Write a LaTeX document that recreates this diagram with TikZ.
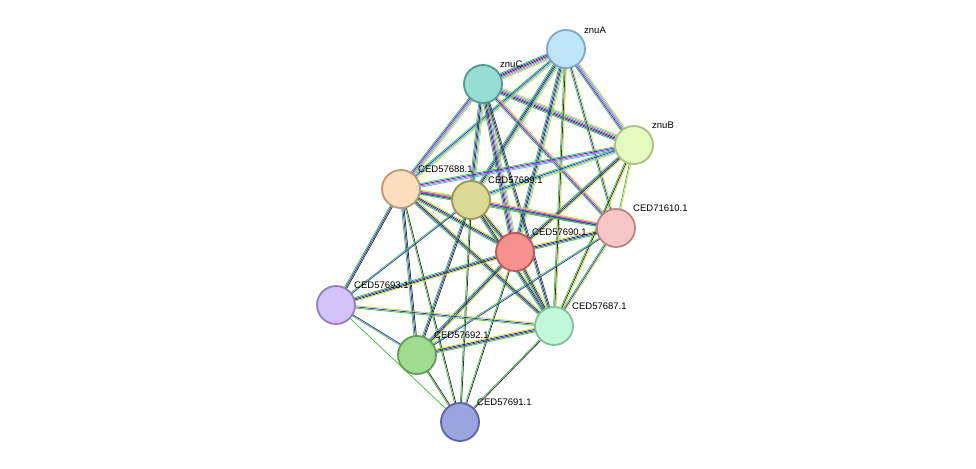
\documentclass[tikz,border=0pt]{standalone}
\usepackage{fontspec}
\setmainfont{Liberation Sans}
\usetikzlibrary{calc}
\definecolor{eG}{HTML}{3CC43C}
\definecolor{eB}{HTML}{3030E0}
\definecolor{eK}{HTML}{303030}
\definecolor{eM}{HTML}{E040E0}
\definecolor{eC}{HTML}{40C0E0}
\definecolor{eY}{HTML}{C8D830}
\definecolor{fA}{HTML}{BFE6F8}\definecolor{dA}{HTML}{7FA8C8}
\definecolor{fC}{HTML}{98DDD4}\definecolor{dC}{HTML}{4E9A90}
\definecolor{fB}{HTML}{E4FBC0}\definecolor{dB}{HTML}{A8C080}
\definecolor{f688}{HTML}{FCDDBE}\definecolor{d688}{HTML}{B8987C}
\definecolor{f689}{HTML}{DCD896}\definecolor{d689}{HTML}{9A9658}
\definecolor{f610}{HTML}{F8C6C6}\definecolor{d610}{HTML}{B88484}
\definecolor{f690}{HTML}{F89090}\definecolor{d690}{HTML}{C05858}
\definecolor{f693}{HTML}{D4C2FA}\definecolor{d693}{HTML}{9280C0}
\definecolor{f687}{HTML}{C2F8DA}\definecolor{d687}{HTML}{82C09C}
\definecolor{f692}{HTML}{A0DC90}\definecolor{d692}{HTML}{60A054}
\definecolor{f691}{HTML}{9AA4DE}\definecolor{d691}{HTML}{5A64A8}
\ExplSyntaxOn
\newcommand{\mycount}[1]{\clist_count:n{#1}}
\ExplSyntaxOff
\newcommand{\myedge}[3]{%
  \edef\nn{\mycount{#3}}%
  \foreach \c [count=\i] in {#3} {
    \pgfmathsetmacro{\o}{(\i-(\nn+1)/2)*1.2}
    \draw[\c,line width=0.75pt] ($(#1)!\o pt!90:(#2)$) -- ($(#2)!\o pt!-90:(#1)$);
  }}
\tikzset{prot/.style={circle,minimum size=38pt,inner sep=0pt,line width=1.8pt},
  lab/.style={font=\fontsize{9.5}{10}\selectfont,anchor=south west,inner sep=1pt}}
\begin{document}
\begin{tikzpicture}[x=1pt,y=-1pt]
\useasboundingbox (0,0) rectangle (976,468);
\coordinate (znuA) at (566,49);
\coordinate (znuC) at (483,84);
\coordinate (znuB) at (634,145);
\coordinate (c688) at (401,189);
\coordinate (c689) at (471,200);
\coordinate (c610) at (616,228);
\coordinate (c690) at (515,252);
\coordinate (c693) at (336,305);
\coordinate (c687) at (554,326);
\coordinate (c692) at (417,355);
\coordinate (c691) at (460,422);
\myedge{znuA}{znuC}{eG,eB,eK,eM,eC,eY}
\myedge{znuA}{znuB}{eG,eB,eM,eC,eY}
\myedge{znuC}{znuB}{eG,eB,eK,eM,eC,eY}
\myedge{znuA}{c688}{eG,eB,eC,eY}
\myedge{znuA}{c689}{eG,eB,eK,eC,eY}
\myedge{znuA}{c690}{eG,eB,eK,eC,eY}
\myedge{znuA}{c610}{eG,eB,eY}
\myedge{znuA}{c687}{eG,eK,eY}
\myedge{znuC}{c688}{eG,eB,eM,eC,eY}
\myedge{znuC}{c689}{eG,eB,eK,eC,eY}
\myedge{znuC}{c690}{eG,eB,eK,eM,eC,eY}
\myedge{znuC}{c610}{eG,eB,eM,eY}
\myedge{znuC}{c687}{eG,eK,eB}
\myedge{znuB}{c688}{eG,eB,eM,eC}
\myedge{znuB}{c689}{eG,eB,eC,eY}
\myedge{znuB}{c690}{eG,eB,eK,eY}
\myedge{znuB}{c610}{eG,eY}
\myedge{znuB}{c687}{eG,eK,eY}
\myedge{c688}{c689}{eG,eB,eK,eY}
\myedge{c688}{c690}{eG,eB,eK,eY}
\myedge{c688}{c610}{eG,eB,eM,eY}
\myedge{c688}{c687}{eG,eB,eK,eY}
\myedge{c688}{c693}{eG,eB,eK}
\myedge{c688}{c692}{eG,eB,eK}
\myedge{c688}{c691}{eG,eK}
\myedge{c689}{c690}{eG,eB,eK,eY}
\myedge{c689}{c610}{eG,eB,eM,eY}
\myedge{c689}{c687}{eG,eB,eK,eY}
\myedge{c689}{c692}{eG,eB,eK}
\myedge{c689}{c691}{eG,eK}
\myedge{c689}{c693}{eG,eB}
\myedge{c690}{c610}{eG,eB,eK,eY}
\myedge{c690}{c687}{eG,eB,eK,eY}
\myedge{c690}{c693}{eG,eB,eK,eY}
\myedge{c690}{c692}{eG,eB,eK,eY}
\myedge{c690}{c691}{eG,eK}
\myedge{c610}{c687}{eG,eB,eY}
\myedge{c610}{c692}{eG,eB}
\myedge{c693}{c687}{eG,eB,eY}
\myedge{c693}{c692}{eG,eB}
\myedge{c693}{c691}{eG}
\myedge{c692}{c687}{eG,eB,eK,eY}
\myedge{c692}{c691}{eG,eK}
\myedge{c687}{c691}{eG,eK}
\node[prot,fill=fA,draw=dA] (nA) at (znuA) {};
\node[prot,fill=fC,draw=dC] (nC) at (znuC) {};
\node[prot,fill=fB,draw=dB] (nB) at (znuB) {};
\node[prot,fill=f688,draw=d688] (n688) at (c688) {};
\node[prot,fill=f689,draw=d689] (n689) at (c689) {};
\node[prot,fill=f610,draw=d610] (n610) at (c610) {};
\node[prot,fill=f690,draw=d690] (n690) at (c690) {};
\node[prot,fill=f693,draw=d693] (n693) at (c693) {};
\node[prot,fill=f687,draw=d687] (n687) at (c687) {};
\node[prot,fill=f692,draw=d692] (n692) at (c692) {};
\node[prot,fill=f691,draw=d691] (n691) at (c691) {};
\node[lab] at (583,35) {znuA};
\node[lab] at (499,69) {znuC};
\node[lab] at (651,130) {znuB};
\node[lab] at (417,174) {CED57688.1};
\node[lab] at (487,185) {CED57689.1};
\node[lab] at (632,213) {CED71610.1};
\node[lab] at (531,237) {CED57690.1};
\node[lab] at (353,290) {CED57693.1};
\node[lab] at (571,311) {CED57687.1};
\node[lab] at (433,340) {CED57692.1};
\node[lab] at (476,407) {CED57691.1};
\end{tikzpicture}
\end{document}
